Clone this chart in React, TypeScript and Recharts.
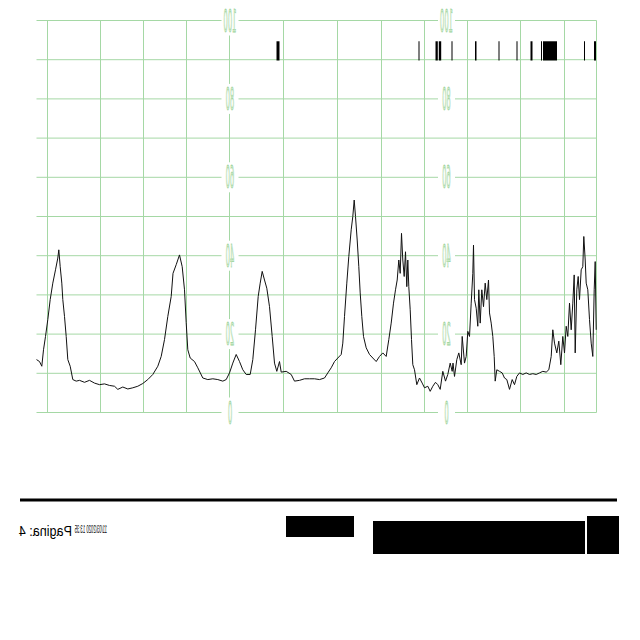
import {
  LineChart,
  Line,
  XAxis,
  YAxis,
  CartesianGrid,
  ReferenceArea,
  ReferenceDot,
} from "recharts";

const times = [
  0, 3, 5.3, 7, 9, 11.3, 13.7, 16.3, 19, 21.3, 22.3, 23.7, 25.3, 26.3, 28, 29.7,
  31.3, 33.7, 36.3, 39.7, 43, 48, 53, 58, 63, 68, 73, 78, 81.3, 86.3, 91.3, 96.3,
  101.3, 106.3, 111.3, 116.3, 121.3, 124.7, 128, 131.3, 134.7, 136.5, 139.7, 143,
  145.7, 148, 149.7, 151.3, 153.7, 158, 161.3, 166.3, 171.3, 176.3, 181.3, 186.3,
  189.7, 193, 196.3, 199.7, 203, 206.3, 209.7, 213.7, 216.3, 219, 221.7, 223.7,
  225.7, 228, 230.3, 233, 235.7, 238, 240.3, 243, 244.7, 249.7, 254.7, 258, 263,
  268, 273, 278, 283, 288, 291.3, 294.7, 298, 301.3, 304.7, 306.3, 308, 310.3,
  312.3, 314.7, 316.3, 317.7, 319, 320.7, 322.3, 323.7, 325.3, 327, 329.7, 333,
  336.3, 339.7, 343, 346.3, 349.7, 352.3, 354.7, 357, 359, 360.7, 362.3, 363.7,
  365, 366.3, 367.7, 369, 370.3, 371.3, 372.3, 373.7, 375, 376.3, 378, 380.3, 383,
  385.7, 388, 391.3, 393.7, 396.3, 399, 401.3, 403.7, 406.3, 409, 411.3, 413.7,
  415.7, 416.5, 418, 420.3, 422.3, 424.7, 425.7, 428, 429.7, 431.3, 433, 434.7,
  436.3, 437, 438, 439.7, 441.3, 442.3, 443.7, 445.3, 447, 448.7, 450.3, 452, 453,
  454.7, 456.3, 457.7, 458.7, 460.3, 463, 465.7, 468, 470.3, 473, 475.7, 478,
  480.3, 483, 486.3, 489.7, 493, 496.3, 499.7, 503, 506.3, 509.7, 512.3, 514.7,
  516.3, 518, 520.3, 522.3, 524.3, 526.3, 528, 529.7, 531.3, 533, 534.7, 536.3,
  537.7, 538.7, 540.3, 541.7, 543, 544.7, 546.3, 547.3, 548.7, 549.7, 551.3, 553,
  554.7, 556.3, 557.7, 558.7, 559.7,
];

const pressure = [
  13.5, 13, 11.8, 16, 19.4, 23.7, 28.8, 33, 36.4, 39.4, 41.5, 37.2, 33, 28.8, 24.5,
  19.4, 13.5, 11.8, 8.4, 8.0, 8.2, 7.7, 8.2, 7.5, 7.1, 7.3, 6.9, 6.7, 5.9, 6.5, 6.0,
  6.3, 6.7, 7.4, 8.4, 9.7, 11.8, 14.3, 18.6, 24.5, 29.6, 35.5, 37.7, 40.2, 37.2,
  31.3, 22.9, 16, 13.9, 13, 11.4, 8.8, 8.4, 8.6, 8.4, 8.0, 8.4, 10.1, 12.6, 14.8,
  13, 10.9, 9.7, 9.7, 13.5, 21.1, 29.6, 33, 36, 33.8, 31.7, 27, 19.4, 12.6, 10.5,
  13, 10.3, 10.5, 9.7, 8.0, 8.2, 8.6, 8.6, 8.6, 8.4, 8.8, 10.1, 11.4, 13, 13.9,
  14.8, 17.7, 24.5, 33, 39.8, 46.6, 50, 54.2, 50, 44, 37.2, 30.5, 24.5, 19.4, 16.5,
  14.8, 13.9, 13, 14.3, 15.2, 14.3, 18.6, 22.8, 27.9, 31.3, 33.8, 38.9, 35.5, 45.7,
  38.9, 34.7, 41, 32.1, 38.9, 32.1, 26.2, 18.6, 12.2, 10.9, 7.1, 8.8, 7.5, 6.3, 6.7,
  5.4, 6.7, 7.7, 7.1, 5.9, 10.5, 8.0, 9.7, 12.6, 10.5, 12.6, 9.2, 13.5, 15.2, 12.2,
  19.4, 12.6, 14.3, 20.7, 19.4, 27.9, 35.5, 42.7, 28.8, 26.6, 22, 31.3, 22.8, 31.3,
  27, 33, 28.8, 33.8, 25.4, 22.8, 19.4, 14.3, 8.0, 10.9, 10.5, 10.1, 8.8, 8.4, 5.9,
  8.4, 7.1, 9.2, 10.1, 9.7, 10.1, 9.7, 9.9, 9.7, 10.1, 10.5, 10.3, 10.9, 14.3, 21.1,
  17.7, 15.2, 18.2, 12.2, 19.4, 15.2, 22, 19.4, 27.9, 21.1, 27.9, 35.1, 15.2, 31.3,
  34.7, 28.8, 36.4, 37.2, 44.9, 38.9, 33, 31.3, 23.7, 17.7, 14.3, 31.3, 38.5, 21.1,
];

// paper grid
const gridTimes = [
  0, 11, 54, 64, 97, 107, 140, 150, 182, 193, 236, 247, 280, 290, 301, 323, 334,
  345, 377, 388, 420, 431, 474, 484, 517, 528, 560,
];
const gridLevels = [0, 10, 20, 30, 40, 50, 60, 70, 80, 90, 100];

// scale labels printed on the paper
const scaleLabels = [100, 80, 60, 40, 20, 0];
const labelColumns = [193.5, 410];

// event marker bars (start, end)
const markStarts = [240, 382, 399, 402.3, 415, 438.5, 462, 480, 494, 504.5, 506.5, 547.5, 557.5];
const markEnds = [243, 383, 401.3, 404.7, 416, 440, 463, 481, 496, 505.5, 520.5, 548.5, 559.5];

const traceData = times.map((t, i) => ({ t, v: pressure[i] }));

const gridColor = "#a5d8a5";

function ScaleLabel(props: any) {
  const { cx, cy, text } = props;
  return (
    <g>
      <rect x={cx - 8.5} y={cy - 15} width={17} height={30} fill="#ffffff" />
      <text
        transform={`translate(${cx}, ${cy}) scale(-0.68, 3.2)`}
        textAnchor="middle"
        dominantBaseline="central"
        fontFamily="DejaVu Sans"
        fontSize={10}
        fill="#cbe9c6"
        stroke="#9ad29a"
        strokeWidth={0.25}
      >
        {text}
      </text>
    </g>
  );
}

export default function App() {
  return (
    <div style={{ position: "absolute", left: 0, top: 0, width: 640, height: 640, background: "#fff" }}>
      <LineChart
        width={640}
        height={640}
        data={traceData}
        margin={{ top: 20.5, right: 43.5, bottom: 227.5, left: 36.5 }}
      >
        <XAxis dataKey="t" type="number" domain={[0, 560]} hide />
        <YAxis type="number" domain={[0, 100]} hide />
        <CartesianGrid
          stroke={gridColor}
          strokeWidth={1}
          horizontalValues={gridLevels}
          verticalValues={gridTimes}
        />
        {markStarts.map((s, i) => (
          <ReferenceArea
            key={`m-${i}`}
            x1={s}
            x2={markEnds[i]}
            y1={89.8}
            y2={94.7}
            fill="#000"
            fillOpacity={1}
            stroke="none"
          />
        ))}
        {labelColumns.map((col) =>
          scaleLabels.map((lv) => (
            <ReferenceDot
              key={`l-${col}-${lv}`}
              x={col}
              y={lv}
              r={0}
              ifOverflow="visible"
              shape={(p: any) => <ScaleLabel {...p} text={String(lv)} />}
            />
          ))
        )}
        <Line
          type="linear"
          dataKey="v"
          stroke="#111"
          strokeWidth={1}
          dot={false}
          isAnimationActive={false}
        />
      </LineChart>
      <svg
        width={640}
        height={640}
        style={{ position: "absolute", left: 0, top: 0, pointerEvents: "none" }}
      >
        <line x1={20} y1={500} x2={617} y2={500} stroke="#000" strokeWidth={3} />
        <rect x={286} y={516} width={68} height={21} fill="#000" />
        <rect x={373} y={521} width={212} height={33} fill="#000" />
        <rect x={587} y={516} width={32} height={38} fill="#000" />
        <text
          transform="translate(107, 533) scale(-0.42, 1)"
          fontFamily="Liberation Sans"
          fontSize={10}
          fill="#000"
        >
          11/03/2020 13:35
        </text>
        <text
          transform="translate(72, 536) scale(-0.84, 1)"
          fontFamily="Liberation Sans"
          fontSize={15}
          fill="#000"
        >
          Pagina: 4
        </text>
      </svg>
    </div>
  );
}
